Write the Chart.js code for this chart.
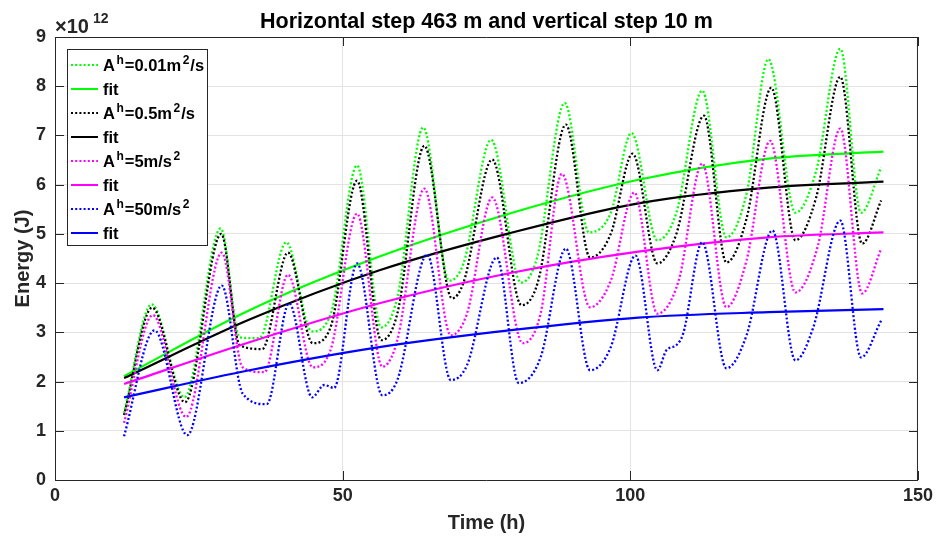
<!DOCTYPE html>
<html>
<head>
<meta charset="utf-8">
<script src="https://cdn.jsdelivr.net/npm/chart.js@4.4.1/dist/chart.umd.min.js"></script>
<style>
  html, body { margin: 0; padding: 0; background: #fff; }
</style>
</head>
<body>
<canvas id="energyChart" width="938" height="542"></canvas>
<script>
// --- data (energy in units of 1e12 J, time in hours) ---
const tGreen = [12, 16.8, 22.5, 28.8, 32.1, 35.5, 40.2, 44.6, 48, 52.5, 56.7, 59.5, 64, 68.5, 71, 75.8, 81, 83.8, 88.6, 92.8, 96.6, 100.2, 104.7, 108, 112.5, 116.7, 120.2, 124, 128.7, 132.3, 136.5, 140.1, 143.6];
const eGreen = [1.36, 3.57, 1.68, 5.11, 2.90, 2.88, 4.83, 3.02, 3.40, 6.39, 3.10, 3.71, 7.16, 4.05, 4.40, 6.91, 4.01, 4.52, 7.66, 5.03, 5.43, 7.05, 4.87, 5.43, 7.91, 4.93, 5.82, 8.55, 5.43, 6.28, 8.76, 5.43, 6.35];

const tBlack = [12, 16.9, 22.6, 28.9, 32.1, 36, 40.5, 44.8, 48, 52.5, 56.7, 59.5, 64.2, 69, 71, 76, 81.1, 84, 88.8, 93, 96.6, 100.4, 104.7, 108, 112.8, 116.7, 120.2, 124.5, 128.7, 132.3, 136.5, 140.3, 143.6];
const eBlack = [1.32, 3.50, 1.58, 5.00, 2.74, 2.66, 4.62, 2.78, 3.14, 6.08, 2.84, 3.38, 6.79, 3.69, 4.01, 6.51, 3.55, 4.05, 7.22, 4.52, 5.00, 6.63, 4.40, 5.00, 7.40, 4.42, 5.31, 7.97, 4.87, 5.74, 8.19, 4.80, 5.68];

const tMagenta = [12, 17, 22.8, 29, 32.6, 36.4, 40.5, 44.8, 48, 52.5, 56.9, 59.5, 64.2, 68.8, 71.6, 76, 81.3, 84.4, 88.1, 93, 96.6, 100.7, 104.7, 108.4, 112.5, 116.7, 120.2, 124.3, 128.7, 132.6, 136.5, 140.3, 143.6];
const eMagenta = [1.16, 3.35, 1.28, 4.62, 2.29, 2.19, 4.17, 2.29, 2.68, 5.41, 2.30, 2.84, 5.92, 2.94, 3.38, 5.74, 2.78, 3.38, 6.22, 3.51, 4.05, 5.84, 3.38, 4.05, 6.43, 3.51, 4.46, 6.89, 3.81, 4.76, 7.14, 3.79, 4.70];

const tBlue = [12, 17.3, 23, 29, 32.6, 36.8, 40.7, 44.7, 46.8, 48.5, 52.5, 56.9, 59.5, 64.7, 68.8, 71.6, 76.8, 80.6, 84.4, 88.8, 93, 96.6, 100.9, 104.7, 106.3, 108, 109.2, 112.5, 116.7, 120.2, 124.7, 128.7, 131.8, 136.5, 140.1, 143.6];
const eBlue = [0.89, 3.04, 0.91, 3.95, 1.76, 1.54, 3.59, 1.68, 1.93, 1.87, 4.40, 1.72, 2.03, 4.58, 2.03, 2.33, 4.52, 1.97, 2.49, 4.70, 2.23, 2.70, 4.56, 2.23, 2.64, 2.74, 2.98, 4.83, 2.27, 2.94, 5.07, 2.43, 3.10, 5.27, 2.49, 3.24];

// fitted curves
const tFit = [12, 33.8, 56.4, 78.9, 101.4, 124, 144];
const fitGreen = [2.11, 3.45, 4.54, 5.41, 6.10, 6.53, 6.67];
const fitBlack = [2.07, 3.26, 4.26, 5.01, 5.62, 5.94, 6.06];
const fitMagenta = [1.95, 2.80, 3.59, 4.20, 4.64, 4.93, 5.03];
const fitBlue = [1.68, 2.23, 2.70, 3.04, 3.30, 3.41, 3.47];

const legendLabels = ['A^{h}=0.01m^{2}/s', 'fit', 'A^{h}=0.5m^{2}/s', 'fit', 'A^{h}=5m/s^{2}', 'fit', 'A^{h}=50m/s^{2}', 'fit'];
const xTicks = [0, 50, 100, 150];
const yTicks = [0, 1, 2, 3, 4, 5, 6, 7, 8, 9];

const FONT = '"Liberation Sans", Arial, Helvetica, sans-serif';
const AXIS_COLOR = '#262626';

function pts(ts, vs) {
    return ts.map((t, i) => ({ x: t, y: vs[i] }));
}

function raw(label, color, ts, vs) {
    return { label, data: pts(ts, vs), borderColor: color, borderWidth: 2.3, borderDash: [2, 2.2],
             pointRadius: 0, fill: false, cubicInterpolationMode: 'monotone' };
}
function fit(color, vs) {
    return { label: 'fit', data: pts(tFit, vs), borderColor: color, borderWidth: 2.2,
             pointRadius: 0, fill: false, cubicInterpolationMode: 'monotone' };
}

const datasets = [
    raw(legendLabels[0], '#00ff00', tGreen, eGreen),
    fit('#00ff00', fitGreen),
    raw(legendLabels[2], '#000000', tBlack, eBlack),
    fit('#000000', fitBlack),
    raw(legendLabels[4], '#ff00ff', tMagenta, eMagenta),
    fit('#ff00ff', fitMagenta),
    raw(legendLabels[6], '#0000ff', tBlue, eBlue),
    fit('#0000ff', fitBlue)
];
// later datasets on top, like matlab
datasets.forEach((d, i) => { d.order = datasets.length - i; });

// draws text with ^{...} superscripts, returns width
function richText(ctx, text, x, y, size) {
    const parts = text.split(/(\^\{[^}]*\})/).filter(s => s.length);
    let cx = x;
    parts.forEach(p => {
        if (p.startsWith('^{')) {
            const s = p.slice(2, -1);
            ctx.font = 'bold ' + Math.round(size * 0.72) + 'px ' + FONT;
            cx += 1.5;
            ctx.fillText(s, cx, y - size * 0.42);
            cx += ctx.measureText(s).width + 1;
        } else {
            ctx.font = 'bold ' + size + 'px ' + FONT;
            ctx.fillText(p, cx, y);
            cx += ctx.measureText(p).width;
        }
    });
    return cx - x;
}

const matlabAxes = {
    id: 'matlabAxes',
    afterDraw(chart) {
        const { ctx, chartArea: a, scales } = chart;
        const sx = scales.x, sy = scales.y;
        ctx.save();
        ctx.strokeStyle = AXIS_COLOR;
        ctx.lineWidth = 1;
        ctx.beginPath();
        ctx.moveTo(a.left, a.top + 0.5); ctx.lineTo(a.right, a.top + 0.5);
        ctx.moveTo(a.right - 0.5, a.top); ctx.lineTo(a.right - 0.5, a.bottom);
        xTicks.forEach(v => {
            const px = Math.round(sx.getPixelForValue(v)) + 0.5;
            ctx.moveTo(px, a.bottom); ctx.lineTo(px, a.bottom - 9);
            ctx.moveTo(px, a.top); ctx.lineTo(px, a.top + 9);
        });
        yTicks.forEach(v => {
            const py = Math.round(sy.getPixelForValue(v)) + 0.5;
            ctx.moveTo(a.left, py); ctx.lineTo(a.left + 9, py);
            ctx.moveTo(a.right, py); ctx.lineTo(a.right - 9, py);
        });
        ctx.stroke();

        // title
        ctx.fillStyle = '#000';
        ctx.textAlign = 'center';
        ctx.textBaseline = 'alphabetic';
        ctx.font = 'bold 21.5px ' + FONT;
        ctx.fillText('Horizontal step 463 m and vertical step 10 m', (a.left + a.right) / 2, 28);

        // exponent label
        ctx.textAlign = 'left';
        ctx.fillStyle = AXIS_COLOR;
        ctx.font = 'bold 20px ' + FONT;
        ctx.fillText('\u00d710', 55, 33);
        ctx.font = 'bold 14px ' + FONT;
        ctx.fillText('12', 93, 23);

        // legend
        const lx = 67, ly = 49, lw = 140, lh = 196, rowH = 24;
        ctx.fillStyle = '#fff';
        ctx.fillRect(lx, ly, lw, lh);
        ctx.strokeStyle = AXIS_COLOR;
        ctx.strokeRect(lx + 0.5, ly + 0.5, lw, lh);
        chart.data.datasets.forEach((d, i) => {
            const cy = ly + 16 + i * rowH;
            ctx.save();
            ctx.strokeStyle = d.borderColor;
            ctx.lineWidth = 2;
            ctx.setLineDash(d.borderDash || []);
            ctx.beginPath();
            ctx.moveTo(lx + 4, cy); ctx.lineTo(lx + 31, cy);
            ctx.stroke();
            ctx.restore();
            ctx.fillStyle = '#000';
            ctx.textBaseline = 'alphabetic';
            richText(ctx, legendLabels[i], lx + 36, cy + 6, 16.5);
        });
        ctx.restore();
    }
};

const ctx = document.getElementById('energyChart').getContext('2d');
const chart = new Chart(ctx, {
    type: 'line',
    data: { datasets },
    plugins: [matlabAxes],
    options: {
        responsive: false,
        animation: false,
        devicePixelRatio: 1,
        layout: { padding: { top: 37, right: 18, left: 0, bottom: 0 } },
        plugins: { legend: { display: false }, title: { display: false }, tooltip: { enabled: false } },
        scales: {
            x: {
                type: 'linear', min: 0, max: 150,
                afterFit: s => { s.height = 62; },
                afterBuildTicks: s => { s.ticks = xTicks.map(v => ({ value: v })); },
                ticks: { color: AXIS_COLOR, font: { family: FONT, size: 18, weight: 'bold' }, padding: 5, maxRotation: 0 },
                grid: { color: '#e3e3e3', drawTicks: false },
                border: { color: AXIS_COLOR, width: 1 },
                title: { display: true, text: 'Time (h)', color: AXIS_COLOR,
                         font: { family: FONT, size: 20, weight: 'bold' }, padding: { bottom: 7 } }
            },
            y: {
                type: 'linear', min: 0, max: 9,
                afterFit: s => { s.width = 55; },
                afterBuildTicks: s => { s.ticks = yTicks.map(v => ({ value: v })); },
                ticks: { color: AXIS_COLOR, font: { family: FONT, size: 18, weight: 'bold' }, padding: 9 },
                grid: { color: '#e3e3e3', drawTicks: false },
                border: { color: AXIS_COLOR, width: 1 },
                title: { display: true, text: 'Energy (J)', color: AXIS_COLOR,
                         font: { family: FONT, size: 20, weight: 'bold' }, padding: { top: 11 } }
            }
        }
    }
});
</script>
</body>
</html>
